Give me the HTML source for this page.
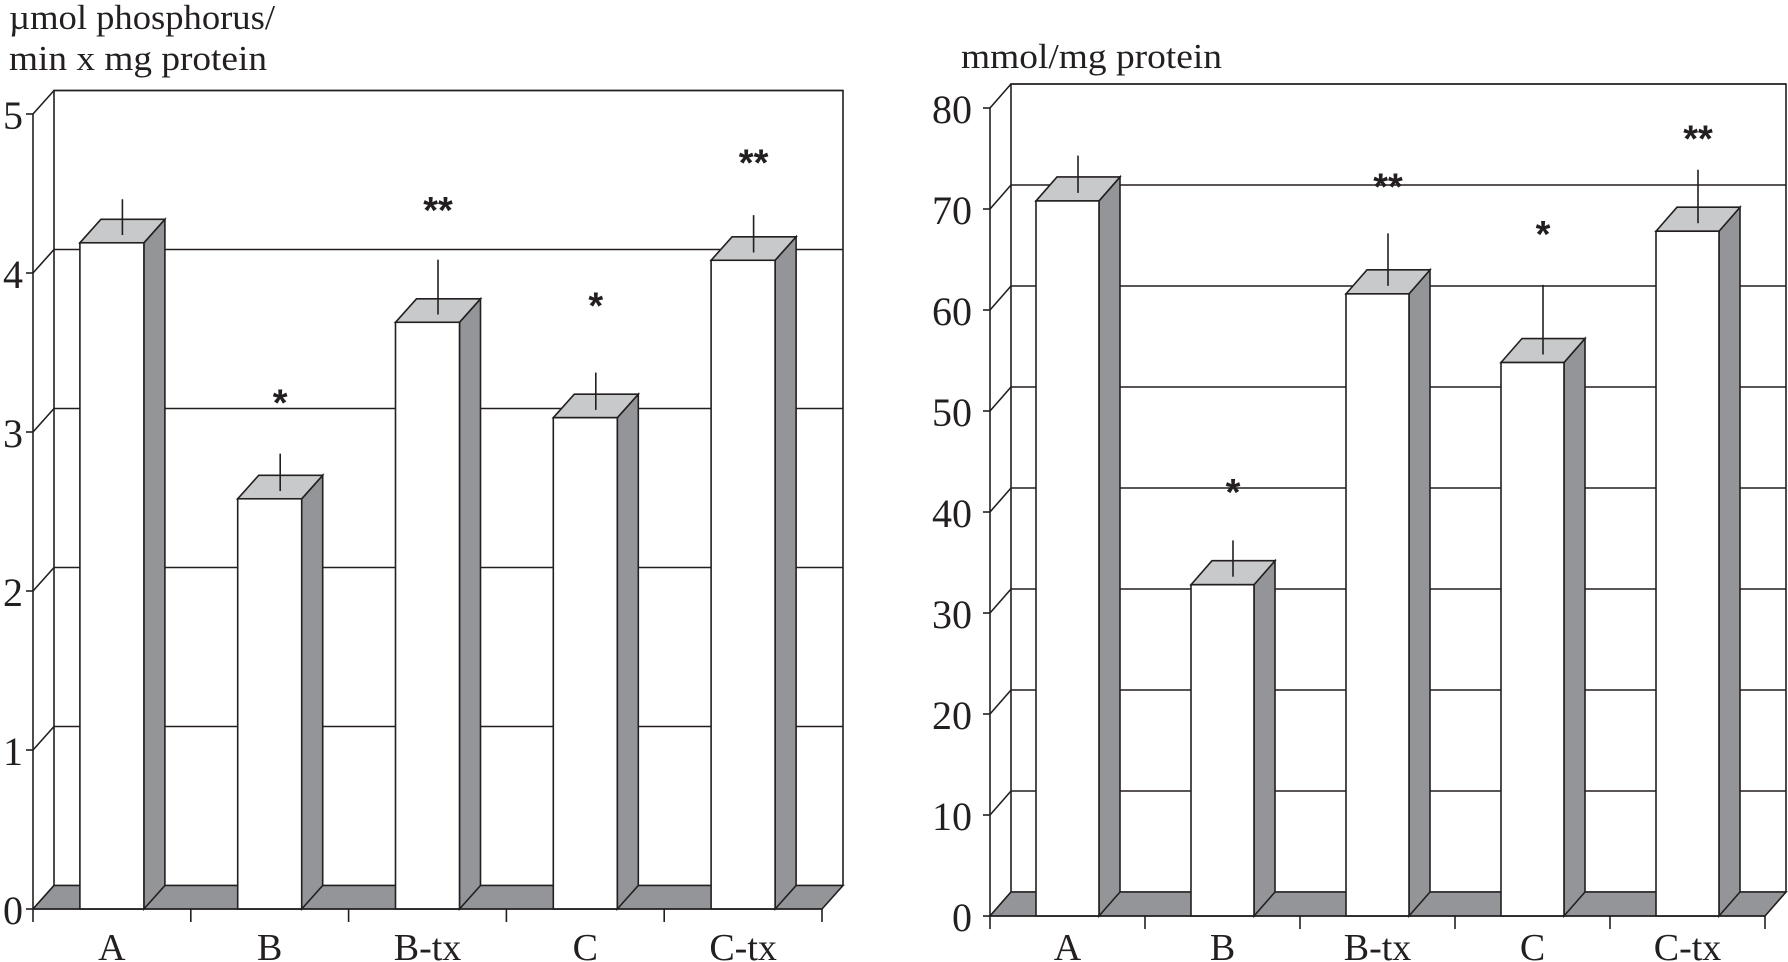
<!DOCTYPE html>
<html><head><meta charset="utf-8"><style>
html,body{margin:0;padding:0;background:#fff;}
svg{display:block;font-family:"Liberation Serif",serif;}
</style></head><body>
<svg id="chart" width="1788" height="962" viewBox="0 0 1788 962" xmlns="http://www.w3.org/2000/svg">
<text x="9" y="29" font-size="35" textLength="266" lengthAdjust="spacingAndGlyphs" fill="#231f20">µmol phosphorus/</text>
<text x="9" y="70" font-size="35" textLength="258" lengthAdjust="spacingAndGlyphs" fill="#231f20">min x mg protein</text>
<text x="961" y="68" font-size="35" textLength="261" lengthAdjust="spacingAndGlyphs" fill="#231f20">mmol/mg protein</text>
</svg>
<script>
const categories = ["A","B","B-tx","C","C-tx"];
const leftValues = [4.19, 2.58, 3.69, 3.09, 4.08];
const leftErrors = [0.2, 0.21, 0.32, 0.21, 0.21];
const leftStars = ["", "*", "**", "*", "**"];
const leftStarLevels = [0, 3.21, 4.42, 3.82, 4.72];
const leftTicks = [0,1,2,3,4,5];
const rightValues = [70.8, 32.8, 61.6, 54.8, 67.8];
const rightErrors = [3.3, 3.2, 4.8, 6.5, 4.9];
const rightStars = ["", "*", "**", "*", "**"];
const rightStarLevels = [0, 42.4, 72.6, 67.9, 77.4];
const rightTicks = [0,10,20,30,40,50,60,70,80];

const NS = "http://www.w3.org/2000/svg";
const svg = document.getElementById("chart");
function mk(tag, attrs, parent){
  const e = document.createElementNS(NS, tag);
  for (const k in attrs) e.setAttribute(k, attrs[k]);
  (parent||svg).appendChild(e);
  return e;
}
function drawChart(cfg, prefix){
  const g = mk("g", {});
  
  
  const yS = v => cfg.y0 - (v - cfg.min) / (cfg.max - cfg.min) * (cfg.y0 - cfg.yTop);
  const n = cfg.cats.length;
  const cw = (cfg.xRight - cfg.x0) / n;
  const xC = i => cfg.x0 + cw * (i + 0.5);
  const dx = cfg.dx, dy = cfg.dy;
  const st = {stroke:"#231f20","stroke-width":"1.6",fill:"none"};
  const topY = yS(cfg.max) + dy;
  const wall = mk("path", Object.assign({}, st, {d:`M${cfg.x0+dx},${cfg.y0+dy} L${cfg.x0+dx},${topY} L${cfg.xRight+dx},${topY} L${cfg.xRight+dx},${cfg.y0+dy}`}), g);
  
  
  const ax = mk("line", Object.assign({}, st, {x1:cfg.x0,y1:cfg.y0,x2:cfg.x0,y2:yS(cfg.max)}), g);
  
  
  cfg.ticks.forEach(t => {
    const y = yS(t);
    const gl = mk("path", Object.assign({}, st, {d:`M${cfg.x0},${y} L${cfg.x0+dx},${y+dy} L${cfg.xRight+dx},${y+dy}`}), g);
    
    
    const tk = mk("line", Object.assign({}, st, {x1:cfg.x0-7,y1:y,x2:cfg.x0,y2:y}), g);
    
    
    const lb = mk("text", {x:cfg.x0-cfg.labelGap,y:y+15,"font-size":"40","text-anchor":"end",fill:"#231f20"}, g);
    lb.textContent = t;
    
    
  });
  const fl = mk("path", {d:`M${cfg.x0},${cfg.y0} L${cfg.x0+dx},${cfg.y0+dy} L${cfg.xRight+dx},${cfg.y0+dy} L${cfg.xRight},${cfg.y0} Z`, fill:"#939598", stroke:"#231f20","stroke-width":"1.6"}, g);
  
  
  cfg.values.forEach((v, i) => {
    const l = xC(i) - cfg.bw/2, r = xC(i) + cfg.bw/2, t = yS(v), b = cfg.y0;
    const side = mk("path", {d:`M${r},${b} L${r+dx},${b+dy} L${r+dx},${t+dy} L${r},${t} Z`, fill:"#939598", stroke:"#231f20","stroke-width":"1.6"}, g);
    
    
    const top = mk("path", {d:`M${l},${t} L${l+dx},${t+dy} L${r+dx},${t+dy} L${r},${t} Z`, fill:"#c8c9cb", stroke:"#231f20","stroke-width":"1.6"}, g);
    
    
    const fr = mk("rect", {x:l,y:t,width:cfg.bw,height:b-t,fill:"#fff",stroke:"#231f20","stroke-width":"1.6"}, g);
    
    
    const ec = xC(i) + dx/2, ey = t + dy/2;
    const eh = (cfg.y0 - cfg.yTop) / (cfg.max - cfg.min) * cfg.errors[i];
    const er = mk("line", {x1:ec,y1:ey+4,x2:ec,y2:ey-eh,stroke:"#231f20","stroke-width":"1.6"}, g);
    
    
    if (cfg.stars[i]) {
      const s = mk("text", {x:ec,y:yS(cfg.starLevels[i])+17,"font-size":"38","font-weight":"bold","text-anchor":"middle",fill:"#231f20","font-family":"Liberation Sans, sans-serif"}, g);
      s.textContent = cfg.stars[i];
      
      
    }
  });
  const xa = mk("line", Object.assign({}, st, {x1:cfg.x0,y1:cfg.y0,x2:cfg.xRight,y2:cfg.y0}), g);
  
  
  for (let i = 0; i <= n; i++) {
    const x = cfg.x0 + cw * i;
    const tk = mk("line", Object.assign({}, st, {x1:x,y1:cfg.y0,x2:x,y2:cfg.y0+13}), g);
    
    
  }
  cfg.cats.forEach((c, i) => {
    const lb = mk("text", {x:xC(i),y:960,"font-size":"38","text-anchor":"middle",fill:"#231f20"}, g);
    lb.textContent = c;
    
    
  });
}
drawChart({x0:33,xRight:822,y0:909,yTop:114,min:0,max:5,dx:21,dy:-23.5,bw:64,labelGap:10,
  cats:categories,values:leftValues,errors:leftErrors,stars:leftStars,starLevels:leftStarLevels,ticks:leftTicks}, "left");
drawChart({x0:990,xRight:1765,y0:916,yTop:108,min:0,max:80,dx:21,dy:-24,bw:63,labelGap:18,
  cats:categories,values:rightValues,errors:rightErrors,stars:rightStars,starLevels:rightStarLevels,ticks:rightTicks}, "right");
</script>
</body></html>
